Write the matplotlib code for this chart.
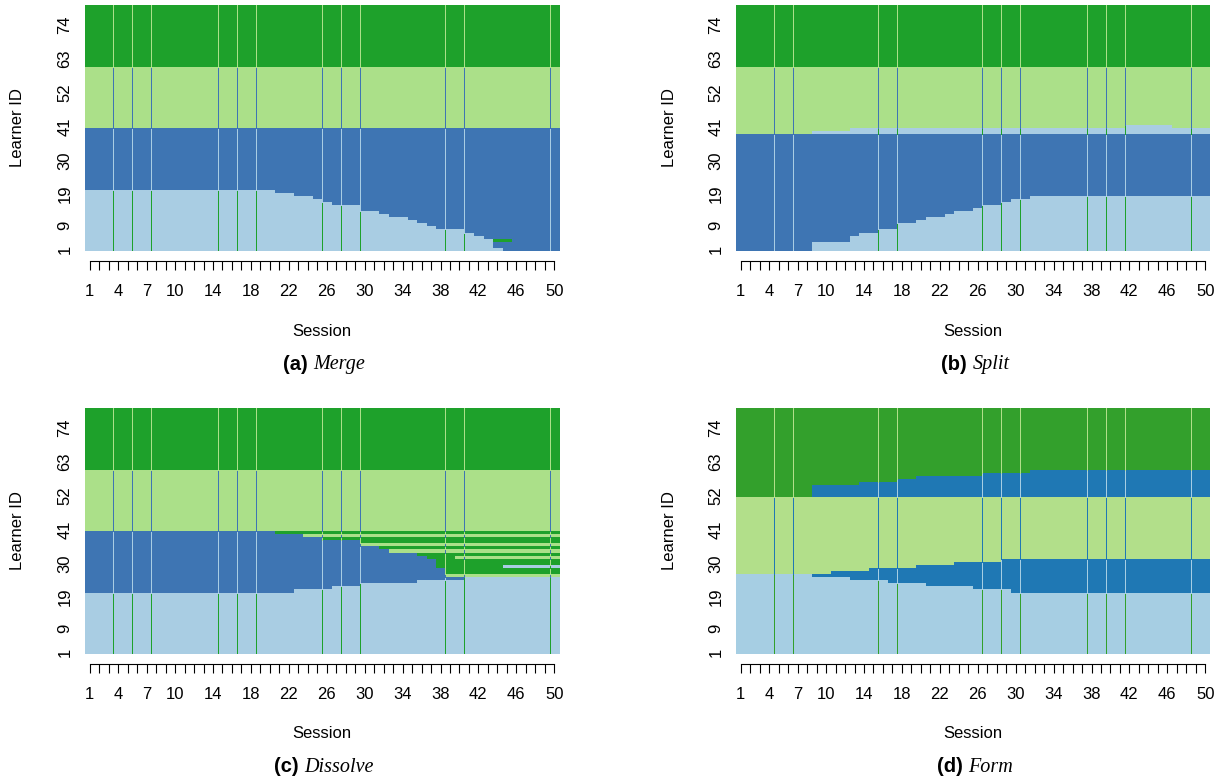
import numpy as np
import matplotlib
matplotlib.use('Agg')
import matplotlib.pyplot as plt
from matplotlib.colors import ListedColormap

plt.rcParams['font.family'] = ['Liberation Sans', 'DejaVu Sans']

n_learners = 80
n_sessions = 50
ytick_ids = [1, 9, 19, 30, 41, 52, 63, 74]
xtick_labels = [1, 4, 7, 10, 14, 18, 22, 26, 30, 34, 38, 42, 46, 50]

# cluster codes: 0 light blue, 1 blue, 2 light green, 3 green
pal_abc = ['#a9cde3', '#3e75b3', '#abe089', '#1ea12b']
pal_d = ['#a6cee3', '#1f78b4', '#b2df8a', '#33a02c']

# session boundaries marked with thin lines
lines_ac = [3, 5, 7, 14, 16, 18, 25, 27, 29, 38, 40, 49]
lines_bd = [4, 6, 15, 17, 26, 28, 30, 37, 39, 41, 48]

# (a) Merge: size of light blue cluster per session (rows 1-40 light blue / blue)
merge_lightblue = [20, 20, 20, 20, 20, 20, 20, 20, 20, 20,
                   20, 20, 20, 20, 20, 20, 20, 20, 20, 20,
                   19, 19, 18, 18, 17, 16, 15, 15, 15, 13,
                   13, 12, 11, 11, 10, 9, 8, 7, 7, 7,
                   6, 5, 4, 1, 0, 0, 0, 0, 0, 0]
merge_cells = [(4, 44, 3), (4, 45, 3)]  # (learner, session, cluster)

# (b) Split: blue rows 1-38; light blue taken from the bottom and above
split_lightblue_low = [0, 0, 0, 0, 0, 0, 0, 0, 3, 3,
                       3, 3, 5, 6, 6, 7, 7, 9, 9, 10,
                       11, 11, 12, 13, 13, 14, 15, 15, 16, 17,
                       17, 18, 18, 18, 18, 18, 18, 18, 18, 18,
                       18, 18, 18, 18, 18, 18, 18, 18, 18, 18]
split_lightblue_top = [0, 0, 0, 0, 0, 0, 0, 0, 1, 1,
                       1, 1, 2, 2, 2, 2, 2, 2, 2, 2,
                       2, 2, 2, 2, 2, 2, 2, 2, 2, 2,
                       2, 2, 2, 2, 2, 2, 2, 2, 2, 2,
                       2, 3, 3, 3, 3, 3, 2, 2, 2, 2]

# (c) Dissolve: light blue size per session, and moves of blue learners
dissolve_lightblue = [20, 20, 20, 20, 20, 20, 20, 20, 20, 20,
                      20, 20, 20, 20, 20, 20, 20, 20, 20, 20,
                      20, 20, 21, 21, 21, 21, 22, 22, 22, 23,
                      23, 23, 23, 23, 23, 24, 24, 24, 24, 24,
                      25, 25, 25, 25, 25, 25, 25, 25, 25, 25]
dissolve_moves = [(40, 21, 3), (39, 24, 2), (38, 26, 3), (37, 30, 3),
                  (36, 30, 2), (35, 32, 3), (34, 33, 2), (33, 36, 3),
                  (32, 37, 3), (32, 40, 2), (31, 38, 3), (30, 38, 3),
                  (29, 38, 3), (28, 39, 3), (27, 39, 3), (26, 39, 2),
                  (29, 45, 0)]  # (learner, from session, cluster)

# (d) Form: new blue cluster grows between the others
form_lightblue = [26, 26, 26, 26, 26, 26, 26, 26, 25, 25,
                  25, 25, 24, 24, 24, 24, 23, 23, 23, 23,
                  22, 22, 22, 22, 22, 21, 21, 21, 21, 20,
                  20, 20, 20, 20, 20, 20, 20, 20, 20, 20,
                  20, 20, 20, 20, 20, 20, 20, 20, 20, 20]
form_lightgreen_start = [27, 27, 27, 27, 27, 27, 27, 27, 27, 27,
                         28, 28, 28, 28, 29, 29, 29, 29, 29, 30,
                         30, 30, 30, 31, 31, 31, 31, 31, 32, 32,
                         32, 32, 32, 32, 32, 32, 32, 32, 32, 32,
                         32, 32, 32, 32, 32, 32, 32, 32, 32, 32]
form_upper_blue = [0, 0, 0, 0, 0, 0, 0, 0, 4, 4,
                   4, 4, 4, 5, 5, 5, 5, 6, 6, 7,
                   7, 7, 7, 7, 7, 7, 8, 8, 8, 8,
                   8, 9, 9, 9, 9, 9, 9, 9, 9, 9,
                   9, 9, 9, 9, 9, 9, 9, 9, 9, 9]


def base_matrix(bounds):
    # bounds: top learner of clusters 0..2, rest is cluster 3
    m = np.full((n_learners, n_sessions), 3)
    lo = 0
    for code, top in enumerate(bounds):
        m[lo:top, :] = code
        lo = top
    return m


m_merge = base_matrix([20, 40, 60])
for s in range(n_sessions):
    m_merge[:40, s] = 1
    m_merge[:merge_lightblue[s], s] = 0
for learner, sess, code in merge_cells:
    m_merge[learner - 1, sess - 1] = code

m_split = base_matrix([0, 38, 60])
for s in range(n_sessions):
    m_split[:split_lightblue_low[s], s] = 0
    m_split[38:38 + split_lightblue_top[s], s] = 0

m_dissolve = base_matrix([20, 40, 60])
for s in range(n_sessions):
    m_dissolve[:dissolve_lightblue[s], s] = 0
for learner, sess, code in dissolve_moves:
    m_dissolve[learner - 1, sess - 1:] = code

m_form = base_matrix([26, 26, 51])
for s in range(n_sessions):
    m_form[:51, s] = 2
    m_form[:form_lightgreen_start[s] - 1, s] = 1
    m_form[:form_lightblue[s], s] = 0
    m_form[51:51 + form_upper_blue[s], s] = 1

W, H = 1218, 780
fig = plt.figure(figsize=(W / 100, H / 100), dpi=100)

panels = [
    (m_merge, pal_abc, lines_ac, 85, 5, '(a)', 'Merge'),
    (m_split, pal_abc, lines_bd, 736, 5, '(b)', 'Split'),
    (m_dissolve, pal_abc, lines_ac, 85, 408, '(c)', 'Dissolve'),
    (m_form, pal_d, lines_bd, 736, 408, '(d)', 'Form'),
]
pw, ph = 474, 246

renderer = fig.canvas.get_renderer()

for m, pal, lines, x0, y0, tag, name in panels:
    ax = fig.add_axes([x0 / W, 1 - (y0 + ph) / H, pw / W, ph / H])
    ax.imshow(m, origin='lower', extent=(0.5, n_sessions + 0.5, 0.5, n_learners + 0.5),
              aspect='auto', interpolation='nearest', cmap=ListedColormap(pal),
              vmin=-0.5, vmax=3.5)
    # thin separator lines, coloured after the cells to their right
    for b in lines:
        col = m[:, b]
        start = 0
        for r in range(1, n_learners + 1):
            if r == n_learners or col[r] != col[start]:
                c = pal[(col[start] + 3) % 4]
                ax.vlines(b + 0.5, start + 0.5, r + 0.5, colors=c,
                          linewidth=0.55, antialiased=False)
                start = r
    ax.axvline(n_sessions + 0.45, color=pal[3], linewidth=0.55, antialiased=False)
    ax.set_xlim(0.5, n_sessions + 0.5)
    ax.set_ylim(0.5, n_learners + 0.5)

    for sp in ['top', 'right', 'left']:
        ax.spines[sp].set_visible(False)
    ax.spines['bottom'].set_position(('outward', 7))
    ax.spines['bottom'].set_bounds(1, n_sessions)
    ax.spines['bottom'].set_linewidth(0.8)
    ax.set_xticks(range(1, n_sessions + 1))
    ax.set_xticklabels([str(s) if s in xtick_labels else '' for s in range(1, n_sessions + 1)])
    ax.tick_params(axis='x', length=6.5, width=0.8, pad=10, labelsize=12)
    ax.set_yticks(ytick_ids)
    ax.set_yticklabels([str(i) for i in ytick_ids], rotation=90, va='center')
    ax.tick_params(axis='y', length=0, pad=9, labelsize=12)

    cx = x0 + pw / 2
    fig.text((x0 - 67) / W, 1 - (y0 + ph / 2) / H, 'Learner ID', rotation=90,
             ha='center', va='center', fontsize=12)
    fig.text(cx / W, 1 - (y0 + 326) / H, 'Session', ha='center', va='center', fontsize=12)

    t1 = fig.text(0, 1 - (y0 + 359) / H, tag, fontweight='bold', fontsize=14.5,
                  ha='left', va='center')
    t2 = fig.text(0, 1 - (y0 + 359) / H, name, style='italic', fontsize=14.5,
                  family='Liberation Serif', ha='left', va='center')
    w1 = t1.get_window_extent(renderer).width
    w2 = t2.get_window_extent(renderer).width
    gap = 6
    start = cx + 2 - (w1 + gap + w2) / 2
    t1.set_x(start / W)
    t2.set_x((start + w1 + gap) / W)

fig.savefig('out.png', dpi=100)
